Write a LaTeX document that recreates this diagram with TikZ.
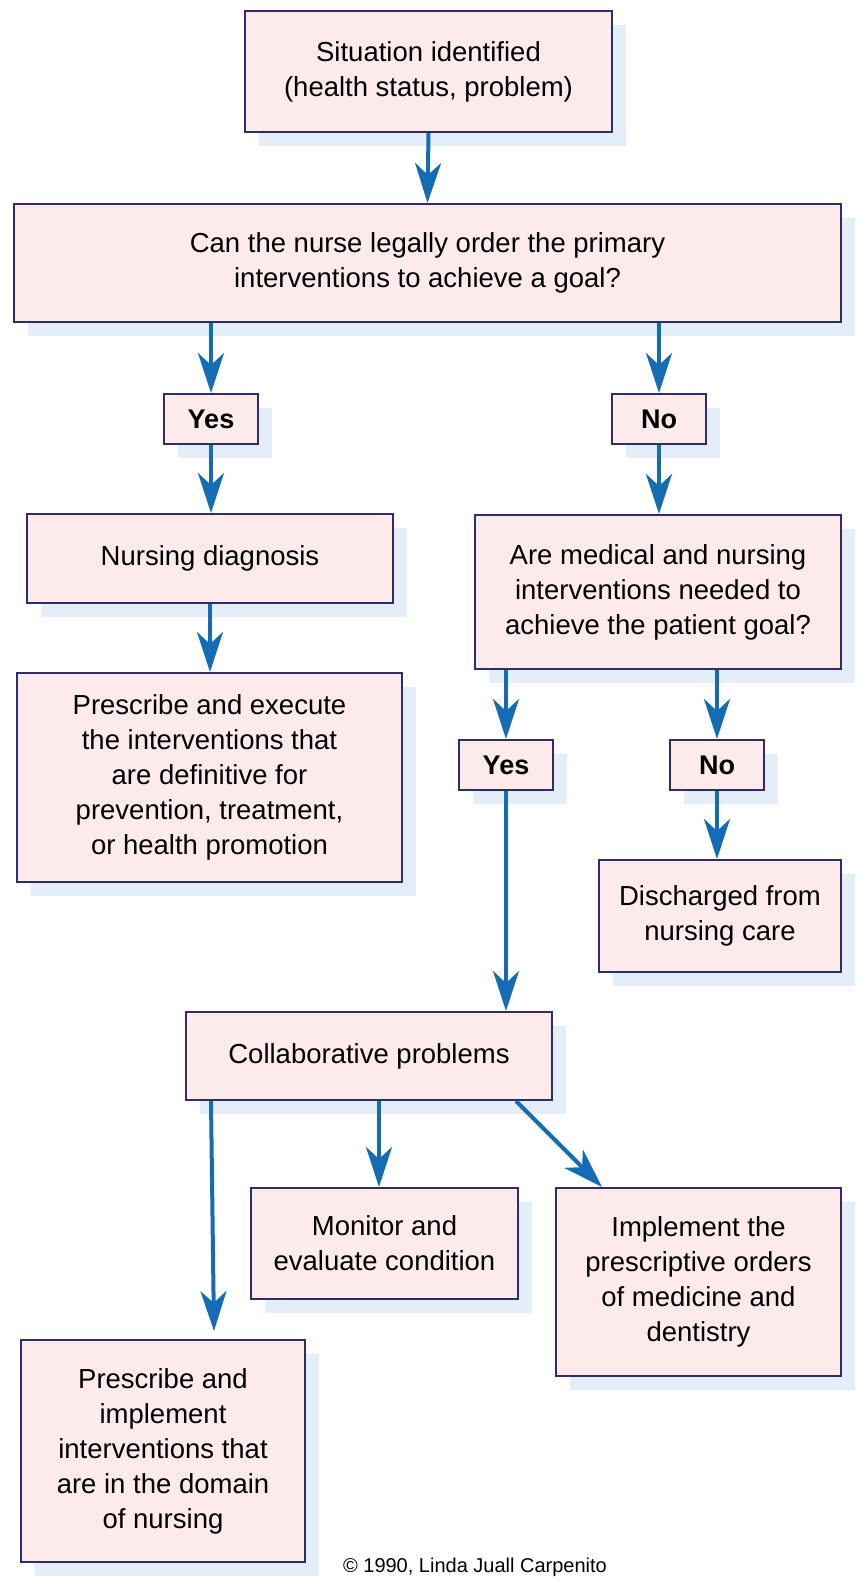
\documentclass[tikz,border=0pt]{standalone}
\usepackage{fontspec}
\setmainfont{Liberation Sans}
\usetikzlibrary{arrows.meta,shadows,calc}
\definecolor{boxfill}{RGB}{253,235,235}
\definecolor{boxborder}{RGB}{48,44,108}
\definecolor{shadowblue}{RGB}{228,238,248}
\definecolor{arrowblue}{RGB}{20,108,180}
\begin{document}
\begin{tikzpicture}[x=1pt,y=-1pt,
  fbox/.style={draw=boxborder, line width=2pt, fill=boxfill, text=black,
    drop shadow={shadow xshift=14pt, shadow yshift=-14pt, fill=shadowblue, opacity=1},
    inner sep=0pt, align=center, font=\fontsize{27.5}{35}\selectfont},
  ybox/.style={fbox, font=\fontsize{27}{33}\selectfont\bfseries, minimum width=94pt, minimum height=50pt},
  arr/.style={draw=arrowblue, line width=4pt, -{Stealth[length=40pt,width=26pt,inset=12pt]}}
]
\useasboundingbox[fill=white] (0,0) rectangle (858,1583);

\node[fbox, minimum width=367pt, minimum height=121pt] (sit) at (428.5,71.5)
  {Situation identified\\(health status, problem)};
\node[fbox, minimum width=827pt, minimum height=118pt] (can) at (427.5,263)
  {Can the nurse legally order the primary\\interventions to achieve a goal?};
\node[ybox] (yes1) at (211,419) {Yes};
\node[ybox] (no1) at (659,419) {No};
\node[fbox, minimum width=366pt, minimum height=89pt] (nd) at (210,558.5)
  {Nursing diagnosis};
\node[fbox, minimum width=366pt, minimum height=154pt] (are) at (658,592)
  {Are medical and nursing\\interventions needed to\\achieve the patient goal?};
\node[fbox, minimum width=385pt, minimum height=209pt] (pe) at (209.5,777.5)
  {Prescribe and execute\\the interventions that\\are definitive for\\prevention, treatment,\\or health promotion};
\node[ybox] (yes2) at (506,765) {Yes};
\node[ybox] (no2) at (717,765) {No};
\node[fbox, minimum width=242pt, minimum height=112pt] (dis) at (720,916)
  {Discharged from\\nursing care};
\node[fbox, minimum width=366pt, minimum height=88pt] (col) at (369,1056)
  {Collaborative problems};
\node[fbox, minimum width=267pt, minimum height=111pt] (mon) at (384.5,1243.5)
  {Monitor and\\evaluate condition};
\node[fbox, minimum width=285pt, minimum height=188pt] (imp) at (698.5,1282)
  {Implement the\\prescriptive orders\\of medicine and\\dentistry};
\node[fbox, minimum width=284pt, minimum height=222pt] (pi) at (163,1451)
  {Prescribe and\\implement\\interventions that\\are in the domain\\of nursing};
\node[anchor=base, inner sep=0pt, font=\fontsize{20}{24}\selectfont] (copy) at (475,1572)
  {© 1990, Linda Juall Carpenito};

\draw[arr] (sit.south) -- (can.north);
\draw[arr] (can.south -| yes1.north) -- (yes1.north);
\draw[arr] (can.south -| no1.north) -- (no1.north);
\draw[arr] (yes1.south) -- (yes1.south |- nd.north);
\draw[arr] (no1.south) -- (no1.south |- are.north);
\draw[arr] (nd.south) -- (nd.south |- pe.north);
\draw[arr] (are.south -| yes2.north) -- (yes2.north);
\draw[arr] (are.south -| no2.north) -- (no2.north);
\draw[arr] (yes2.south) -- (yes2.south |- col.north);
\draw[arr] (no2.south) -- (no2.south |- dis.north);
\draw[arr] ($(col.south)+(10,0)$) -- ($(mon.north)+(-5.5,0)$);
\draw[arr] ($(col.south east)+(-37,0)$) -- ($(imp.north west)+(47,0)$);
\draw[arr] ($(col.south west)+(26,0)$) -- ($(pi.north west)+(194,-8)$);
\end{tikzpicture}
\end{document}
